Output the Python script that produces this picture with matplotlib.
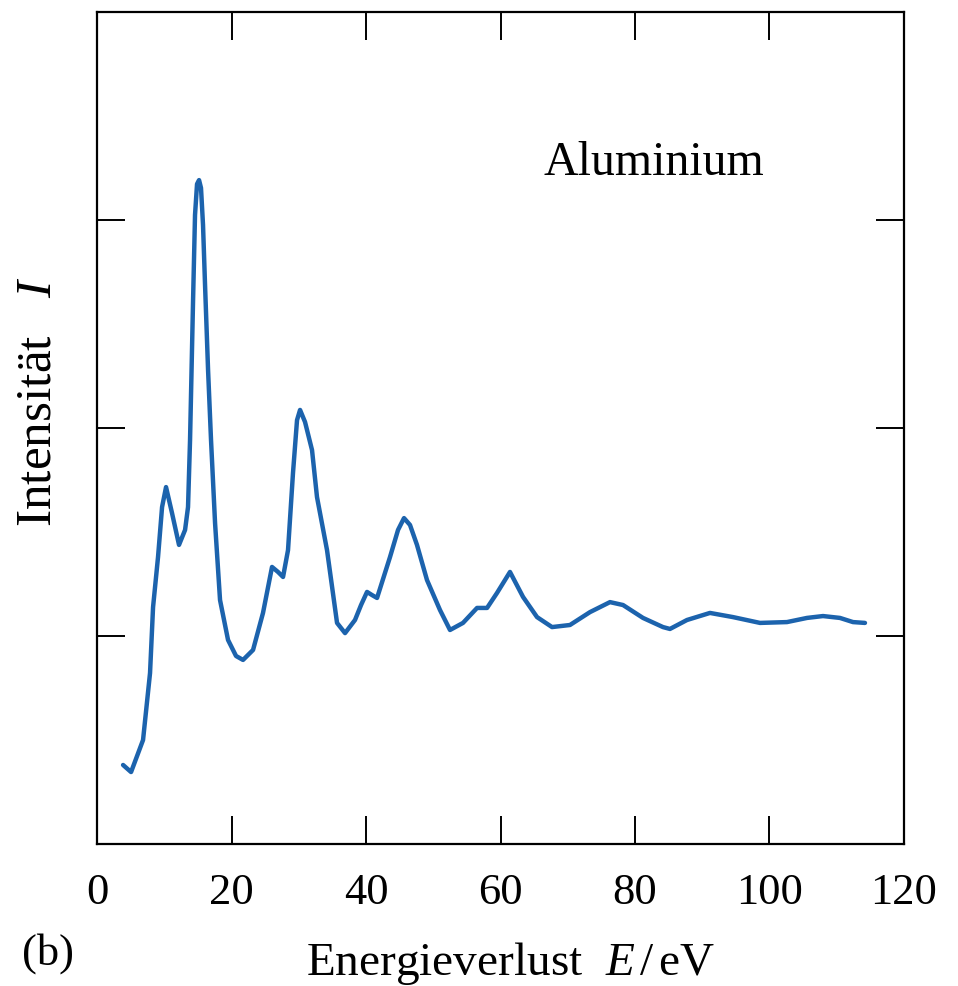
import matplotlib
matplotlib.use("Agg")
import matplotlib.pyplot as plt

plt.rcParams["font.family"] = ["Liberation Serif", "DejaVu Serif"]
plt.rcParams["mathtext.fontset"] = "custom"
plt.rcParams["mathtext.rm"] = "Liberation Serif"
plt.rcParams["mathtext.it"] = "Liberation Serif:italic"

# energy loss spectrum of aluminium
energy = [3.87, 5.06, 6.84, 7.88, 8.33, 9.07, 9.67, 10.26, 11.15, 12.19,
          13.09, 13.53, 13.83, 14.28, 14.57, 14.87, 15.17, 15.46, 15.76, 16.06,
          16.51, 16.95, 17.55, 18.29, 19.48, 20.67, 21.71, 23.20, 24.68, 26.02,
          26.91, 27.66, 28.40, 29.14, 29.74, 30.19, 30.93, 31.97, 32.71, 34.20,
          35.69, 36.88, 38.36, 39.26, 40.15, 40.89, 41.64, 43.57, 44.76, 45.65,
          46.54, 47.58, 49.07, 51.00, 52.49, 54.42, 56.51, 58.00, 59.48, 61.41,
          63.35, 65.43, 67.66, 70.33, 73.31, 76.28, 78.22, 81.19, 84.16, 85.20,
          87.73, 91.15, 94.57, 98.59, 102.60, 105.58, 107.96, 110.48, 112.42, 114.20]
intensity = [0.380, 0.346, 0.500, 0.822, 1.139, 1.380, 1.620, 1.716, 1.591, 1.438,
             1.510, 1.620, 1.942, 2.615, 3.024, 3.173, 3.192, 3.154, 2.976, 2.688,
             2.279, 1.942, 1.543, 1.173, 0.981, 0.904, 0.885, 0.933, 1.111, 1.332,
             1.308, 1.284, 1.413, 1.784, 2.038, 2.087, 2.029, 1.894, 1.668, 1.413,
             1.063, 1.014, 1.077, 1.149, 1.212, 1.197, 1.183, 1.380, 1.510, 1.567,
             1.534, 1.438, 1.269, 1.125, 1.029, 1.063, 1.135, 1.135, 1.207, 1.308,
             1.188, 1.091, 1.043, 1.053, 1.115, 1.163, 1.149, 1.087, 1.043, 1.034,
             1.077, 1.111, 1.091, 1.063, 1.067, 1.087, 1.096, 1.087, 1.067, 1.063]

x_ticks = [0, 20, 40, 60, 80, 100, 120]
y_ticks = [1, 2, 3]

fig = plt.figure(figsize=(9.58, 9.86), dpi=100)
ax = fig.add_axes([0.1013, 0.144, 0.8423, 0.8438])

ax.plot(energy, intensity, color="#1c63ad", lw=3.2, solid_joinstyle="round",
        solid_capstyle="round")

ax.set_xlim(0, 120)
ax.set_ylim(0, 4)
ax.set_xticks(x_ticks)
ax.set_yticks(y_ticks)
ax.set_yticklabels([])
ax.tick_params(direction="in", length=20, width=1.4, top=True, right=True,
               labelsize=32, pad=21)
ax.tick_params(axis="x", labeltop=False)
for s in ax.spines.values():
    s.set_linewidth(1.6)

fig.text(543 / 958, 1 - 175 / 986, "Aluminium", fontsize=34.5,
         ha="left", va="baseline")
fig.text(510 / 958, 1 - 975 / 986, "Energieverlust  $E\\,/\\,$eV",
         fontsize=34, ha="center", va="baseline")
fig.text(22 / 958, 1 - 965 / 986, "(b)", fontsize=32, ha="left", va="baseline")
fig.text(62 / 958, 1 - 402 / 986, "Intensität   $I$", fontsize=37,
         rotation=90, ha="right", va="center")

fig.savefig("out.png", dpi=100)
